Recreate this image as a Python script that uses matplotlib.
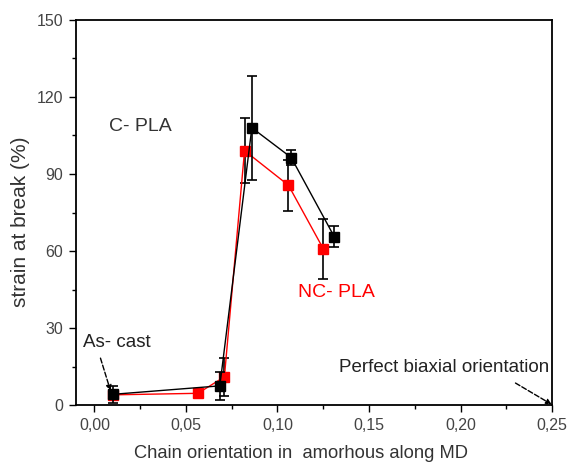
import matplotlib
matplotlib.use("Agg")
import matplotlib.pyplot as plt
from matplotlib.ticker import MultipleLocator, FuncFormatter

plt.rcParams['font.family'] = ['Liberation Sans', 'DejaVu Sans']

# C-PLA (black)
c_x = [0.010, 0.0685, 0.086, 0.1075, 0.131]
c_y = [4.2, 7.5, 108.0, 96.4, 65.6]
c_err = [3.3, 5.5, 20.3, 3.0, 4.2]

# NC-PLA (red)
nc_x = [0.010, 0.0565, 0.071, 0.082, 0.106, 0.125]
nc_y = [4.0, 4.6, 11.0, 99.1, 85.6, 60.9]
nc_err = [1.0, 1.5, 7.5, 12.8, 10.0, 11.7]

x_ticks = [0.00, 0.05, 0.10, 0.15, 0.20, 0.25]
y_ticks = [0, 30, 60, 90, 120, 150]

fig = plt.figure(figsize=(5.68, 4.63), dpi=100)
ax = fig.add_axes([0.134, 0.125, 0.838, 0.832])

ax.errorbar(nc_x, nc_y, yerr=nc_err, color='#ff0000', lw=1.0, marker='s',
            ms=7, mec='#ff0000', mfc='#ff0000', ecolor='black',
            elinewidth=1.2, capsize=3.5, capthick=1.2, zorder=3)
ax.errorbar(c_x, c_y, yerr=c_err, color='black', lw=1.0, marker='s',
            ms=7, mec='black', mfc='black', ecolor='black',
            elinewidth=1.2, capsize=3.5, capthick=1.2, zorder=4)

ax.set_xlim(-0.01, 0.25)
ax.set_ylim(0, 150)
ax.set_xticks(x_ticks)
ax.set_yticks(y_ticks)
ax.xaxis.set_minor_locator(MultipleLocator(0.025))
ax.yaxis.set_minor_locator(MultipleLocator(15))
ax.xaxis.set_major_formatter(FuncFormatter(lambda v, p: f"{v:.2f}".replace('.', ',')))
ax.tick_params(which='both', direction='out', top=False, right=False,
               colors='black', labelcolor='#444444', labelsize=11.5, width=1.0)
ax.tick_params(which='major', length=5, pad=4.5)
ax.tick_params(which='minor', length=3)
for s in ax.spines.values():
    s.set_linewidth(1.3)

fig.text(0.236, 1 - 454 / 463, 'Chain orientation in  amorhous along MD',
         fontsize=13.2, color='#333333', ha='left', va='center')
fig.text(21 / 568, 1 - 222 / 463, 'strain at break (%)', fontsize=15,
         color='#333333', rotation=90, ha='center', va='center')

ax.text(0.0082, 108.3, 'C- PLA', fontsize=14, color='#333333', va='center')
ax.text(0.111, 44.0, 'NC- PLA', fontsize=14, color='#ff0000', va='center')

arrow = dict(arrowstyle='-|>', ls='--', color='black', lw=1.0,
             shrinkA=0, shrinkB=0, mutation_scale=8)

ax.text(-0.0062, 24.2, 'As- cast', fontsize=13.5, color='#222222', va='center')
ax.annotate('', xy=(0.0088, 5.6), xytext=(0.0033, 18.3), arrowprops=arrow)

ax.text(0.2487, 14.8, 'Perfect biaxial orientation', fontsize=13.5,
        color='#222222', ha='right', va='center')
ax.annotate('', xy=(0.2497, 0.3), xytext=(0.230, 8.6), arrowprops=arrow)

fig.savefig('out.png', dpi=100)
